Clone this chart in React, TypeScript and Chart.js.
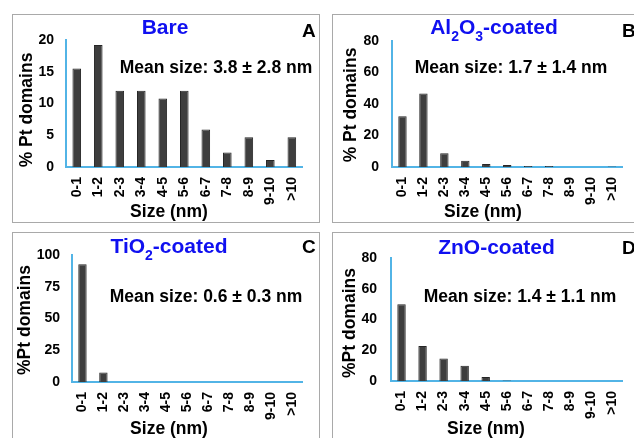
import React, { useEffect, useRef } from "react";
import { Chart, registerables } from "chart.js";

Chart.register(...registerables);

// ---------- data ----------
const sizeBins = ["0-1", "1-2", "2-3", "3-4", "4-5", "5-6", "6-7", "7-8", "8-9", "9-10", ">10"];
const bareValues = [15.5, 19.2, 12.0, 12.0, 10.8, 12.0, 5.9, 2.3, 4.7, 1.1, 4.7];
const al2o3Values = [32.3, 46.7, 8.8, 4.0, 1.9, 1.3, 0.6, 0.6, 0, 0, 0.3];
const tio2Values = [92.7, 7.5, 0, 0, 0, 0, 0, 0, 0, 0, 0];
const znoValues = [50.0, 22.7, 14.6, 10.0, 2.6, 0.3, 0, 0, 0, 0, 0];

const bareTicks = [0, 5, 10, 15, 20];
const al2o3Ticks = [0, 20, 40, 60, 80];
const tio2Ticks = [0, 25, 50, 75, 100];
const znoTicks = [0, 20, 40, 60, 80];

const bareMean = "Mean size: 3.8 ± 2.8 nm";
const al2o3Mean = "Mean size: 1.7 ± 1.4 nm";
const tio2Mean = "Mean size: 0.6 ± 0.3 nm";
const znoMean = "Mean size: 1.4 ± 1.1 nm";

// ---------- styles ----------
const FAMILY = "'Liberation Sans', Arial, Helvetica, sans-serif";
const BAR = "#3e3e3e";
const BAR_EDGE = "#262626";
const AXIS = "#52b4e6";
const TITLE_BLUE = "#1010f0";
const PANEL_W = 308;
const PANEL_H = 209;

type Seg = { text: string; sub?: boolean };

interface Spec {
  left: number;
  top: number;
  values: number[];
  ticks: number[];
  plot: { l: number; t: number; r: number; b: number };
  title: Seg[];
  titleX: number;
  titleY: number;
  letter: string;
  letterX: number;
  letterY: number;
  mean: string;
  meanX: number;
  meanY: number;
  yTitle: string;
  yTitleX: number;
  yTitleY: number;
  xTitle: string;
  xTitleX: number;
  xTitleY: number;
  yTickPad: number;
}

const specs: Spec[] = [
  {
    left: 12, top: 14, values: bareValues, ticks: bareTicks,
    plot: { l: 66, t: 40, r: 311, b: 167 },
    title: [{ text: "Bare" }], titleX: 165, titleY: 34,
    letter: "A", letterX: 302, letterY: 36.5,
    mean: bareMean, meanX: 216, meanY: 73,
    yTitle: "% Pt domains", yTitleX: 27.5, yTitleY: 110,
    xTitle: "Size (nm)", xTitleX: 169, xTitleY: 217,
    yTickPad: 12,
  },
  {
    left: 332, top: 14, values: al2o3Values, ticks: al2o3Ticks,
    plot: { l: 392, t: 41, r: 634, b: 167 },
    title: [{ text: "Al" }, { text: "2", sub: true }, { text: "O" }, { text: "3", sub: true }, { text: "-coated" }],
    titleX: 494, titleY: 34,
    letter: "B", letterX: 622, letterY: 36.5,
    mean: al2o3Mean, meanX: 511, meanY: 73,
    yTitle: "% Pt domains", yTitleX: 351, yTitleY: 105,
    xTitle: "Size (nm)", xTitleX: 483, xTitleY: 217,
    yTickPad: 13,
  },
  {
    left: 12, top: 232, values: tio2Values, ticks: tio2Ticks,
    plot: { l: 72, t: 255, r: 311, b: 382 },
    title: [{ text: "TiO" }, { text: "2", sub: true }, { text: "-coated" }],
    titleX: 169, titleY: 253,
    letter: "C", letterX: 302, letterY: 253,
    mean: tio2Mean, meanX: 206, meanY: 302,
    yTitle: "%Pt domains", yTitleX: 25, yTitleY: 320,
    xTitle: "Size (nm)", xTitleX: 169, xTitleY: 434,
    yTickPad: 12,
  },
  {
    left: 332, top: 232, values: znoValues, ticks: znoTicks,
    plot: { l: 391, t: 258, r: 634, b: 381 },
    title: [{ text: "ZnO-coated" }], titleX: 496.5, titleY: 254,
    letter: "D", letterX: 622, letterY: 254,
    mean: znoMean, meanX: 520, meanY: 302,
    yTitle: "%Pt domains", yTitleX: 350, yTitleY: 323,
    xTitle: "Size (nm)", xTitleX: 486, xTitleY: 434,
    yTickPad: 14,
  },
];

function drawSegs(ctx: CanvasRenderingContext2D, segs: Seg[], cx: number, baseline: number, size: number) {
  const mainFont = `bold ${size}px ${FAMILY}`;
  const subFont = `bold ${Math.round(size * 0.66)}px ${FAMILY}`;
  let total = 0;
  const widths = segs.map((s) => {
    ctx.font = s.sub ? subFont : mainFont;
    const w = ctx.measureText(s.text).width;
    total += w;
    return w;
  });
  let x = cx - total / 2;
  ctx.textAlign = "left";
  ctx.textBaseline = "alphabetic";
  segs.forEach((s, i) => {
    ctx.font = s.sub ? subFont : mainFont;
    ctx.fillText(s.text, x, baseline + (s.sub ? size * 0.33 : 0));
    x += widths[i];
  });
}

function Panel({ spec }: { spec: Spec }) {
  const ref = useRef<HTMLCanvasElement>(null);
  const ox = spec.left + 1;
  const oy = spec.top + 1;
  const W = PANEL_W - 2;
  const H = PANEL_H - 2;

  useEffect(() => {
    const annot = {
      id: "annot",
      afterDraw(chart: any) {
        const ctx: CanvasRenderingContext2D = chart.ctx;
        ctx.save();
        ctx.fillStyle = TITLE_BLUE;
        drawSegs(ctx, spec.title, spec.titleX - ox, spec.titleY - oy, 21);
        ctx.fillStyle = "#000";
        ctx.font = `bold 19px ${FAMILY}`;
        ctx.textAlign = "left";
        ctx.textBaseline = "alphabetic";
        ctx.fillText(spec.letter, spec.letterX - ox, spec.letterY - oy);
        ctx.font = `bold 17.5px ${FAMILY}`;
        ctx.textAlign = "center";
        ctx.fillText(spec.mean, spec.meanX - ox, spec.meanY - oy);
        ctx.fillText(spec.xTitle, spec.xTitleX - ox, spec.xTitleY - oy);
        ctx.translate(spec.yTitleX - ox, spec.yTitleY - oy);
        ctx.rotate(-Math.PI / 2);
        ctx.textBaseline = "middle";
        ctx.fillText(spec.yTitle, 0, 0);
        ctx.restore();
      },
    };

    const chart = new Chart(ref.current!, {
      type: "bar",
      data: {
        labels: sizeBins,
        datasets: [
          {
            data: spec.values,
            backgroundColor: BAR,
            borderColor: BAR_EDGE,
            borderWidth: 1,
            barPercentage: 0.4,
            categoryPercentage: 1,
          },
        ],
      },
      options: {
        responsive: false,
        animation: false,
        devicePixelRatio: 1,
        layout: {
          padding: { left: 0, top: spec.plot.t - oy, right: ox + W - spec.plot.r, bottom: 0 },
        },
        plugins: {
          legend: { display: false },
          title: { display: false },
          tooltip: { enabled: false },
        },
        scales: {
          x: {
            grid: { display: false, drawTicks: false },
            border: { display: true, color: AXIS, width: 2 },
            ticks: {
              autoSkip: false,
              minRotation: 90,
              maxRotation: 90,
              padding: 10,
              color: "#000",
              font: { family: FAMILY, size: 14, weight: "bold" },
            },
            afterFit: (s: any) => {
              s.height = oy + H - spec.plot.b;
            },
          },
          y: {
            min: 0,
            max: spec.ticks[spec.ticks.length - 1],
            grid: { display: false, drawTicks: false },
            border: { display: true, color: AXIS, width: 2 },
            ticks: {
              padding: spec.yTickPad,
              color: "#000",
              font: { family: FAMILY, size: 14, weight: "bold" },
            },
            afterBuildTicks: (s: any) => {
              s.ticks = spec.ticks.map((v) => ({ value: v }));
            },
            afterFit: (s: any) => {
              s.width = spec.plot.l - ox;
            },
          },
        },
      } as any,
      plugins: [annot],
    });
    return () => chart.destroy();
  }, []);

  return (
    <div
      style={{
        position: "absolute",
        left: spec.left,
        top: spec.top,
        width: PANEL_W,
        height: PANEL_H,
        border: "1px solid #a9a9a9",
        boxSizing: "border-box",
        background: "#fff",
      }}
    >
      <canvas ref={ref} width={W} height={H} style={{ display: "block", width: W, height: H }} />
    </div>
  );
}

export default function App() {
  return (
    <div
      style={{
        position: "fixed",
        left: 0,
        top: 0,
        width: 634,
        height: 438,
        overflow: "hidden",
        background: "#fff",
      }}
    >
      {specs.map((s, i) => (
        <Panel key={i} spec={s} />
      ))}
    </div>
  );
}
